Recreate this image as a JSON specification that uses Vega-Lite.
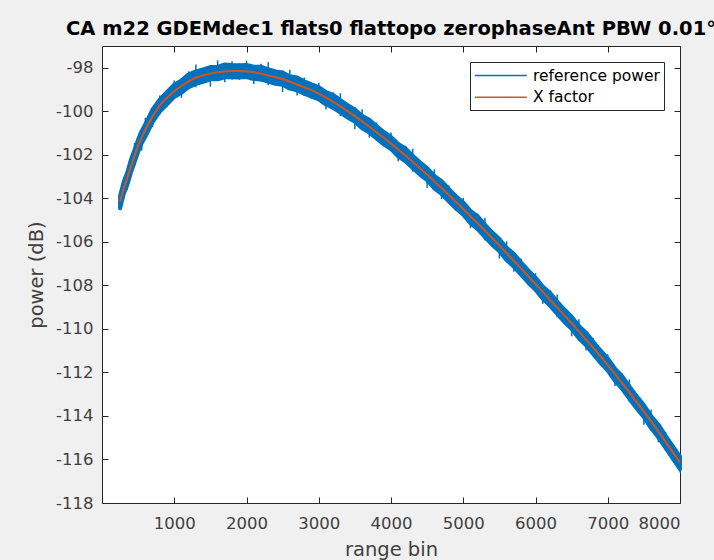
{
  "$schema": "https://vega.github.io/schema/vega-lite/v6.json",
  "autosize": "none",
  "width": 578,
  "height": 457,
  "padding": {"left": 102, "top": 46, "right": 34, "bottom": 57},
  "background": "#f0f0f0",
  "title": {"text": "CA m22 GDEMdec1 flats0 flattopo zerophaseAnt PBW 0.01°", "font": "DejaVu Sans", "fontSize": 19.5, "fontWeight": "bold", "color": "#000000", "anchor": "middle", "baseline": "alphabetic", "offset": 10, "dy": 19},
  "data": {"values": [
    {"bin": 250, "fit": -104.15, "chi": -103.88, "clo": -104.45, "shi": -103.8, "slo": -104.55},
    {"bin": 300, "fit": -103.55, "chi": -103.25, "clo": -103.81, "shi": -103.05, "slo": -103.85},
    {"bin": 350, "fit": -103.06, "chi": -102.81, "clo": -103.38, "shi": -102.76, "slo": -103.61},
    {"bin": 400, "fit": -102.55, "chi": -102.23, "clo": -102.82, "shi": -102.1, "slo": -102.9},
    {"bin": 450, "fit": -102.06, "chi": -101.78, "clo": -102.35, "shi": -101.46, "slo": -102.51},
    {"bin": 500, "fit": -101.57, "chi": -101.3, "clo": -101.87, "shi": -101.22, "slo": -101.87},
    {"bin": 550, "fit": -101.2, "chi": -100.9, "clo": -101.46, "shi": -100.8, "slo": -101.8},
    {"bin": 600, "fit": -100.85, "chi": -100.6, "clo": -101.17, "shi": -100.3, "slo": -101.2},
    {"bin": 700, "fit": -100.23, "chi": -99.91, "clo": -100.5, "shi": -99.93, "slo": -100.73},
    {"bin": 800, "fit": -99.73, "chi": -99.45, "clo": -100.02, "shi": -99.28, "slo": -100.13},
    {"bin": 900, "fit": -99.38, "chi": -99.11, "clo": -99.68, "shi": -99.03, "slo": -99.78},
    {"bin": 1000, "fit": -99.08, "chi": -98.78, "clo": -99.34, "shi": -98.58, "slo": -99.38},
    {"bin": 1100, "fit": -98.83, "chi": -98.58, "clo": -99.15, "shi": -98.53, "slo": -99.38},
    {"bin": 1200, "fit": -98.62, "chi": -98.3, "clo": -98.89, "shi": -98.17, "slo": -98.97},
    {"bin": 1300, "fit": -98.45, "chi": -98.17, "clo": -98.74, "shi": -97.85, "slo": -98.9},
    {"bin": 1400, "fit": -98.35, "chi": -98.08, "clo": -98.65, "shi": -98.0, "slo": -98.65},
    {"bin": 1500, "fit": -98.27, "chi": -97.97, "clo": -98.53, "shi": -97.87, "slo": -98.87},
    {"bin": 1600, "fit": -98.21, "chi": -97.96, "clo": -98.53, "shi": -97.66, "slo": -98.56},
    {"bin": 1700, "fit": -98.17, "chi": -97.85, "clo": -98.44, "shi": -97.87, "slo": -98.67},
    {"bin": 1800, "fit": -98.15, "chi": -97.87, "clo": -98.44, "shi": -97.7, "slo": -98.55},
    {"bin": 1900, "fit": -98.15, "chi": -97.88, "clo": -98.45, "shi": -97.8, "slo": -98.55},
    {"bin": 2000, "fit": -98.17, "chi": -97.87, "clo": -98.43, "shi": -97.67, "slo": -98.47},
    {"bin": 2100, "fit": -98.2, "chi": -97.95, "clo": -98.52, "shi": -97.9, "slo": -98.75},
    {"bin": 2200, "fit": -98.27, "chi": -97.95, "clo": -98.54, "shi": -97.82, "slo": -98.62},
    {"bin": 2300, "fit": -98.35, "chi": -98.07, "clo": -98.64, "shi": -97.75, "slo": -98.8},
    {"bin": 2400, "fit": -98.44, "chi": -98.17, "clo": -98.74, "shi": -98.09, "slo": -98.74},
    {"bin": 2500, "fit": -98.52, "chi": -98.22, "clo": -98.78, "shi": -98.12, "slo": -99.12},
    {"bin": 2600, "fit": -98.64, "chi": -98.39, "clo": -98.96, "shi": -98.09, "slo": -98.99},
    {"bin": 2700, "fit": -98.77, "chi": -98.45, "clo": -99.04, "shi": -98.47, "slo": -99.27},
    {"bin": 2800, "fit": -98.9, "chi": -98.62, "clo": -99.19, "shi": -98.45, "slo": -99.3},
    {"bin": 2900, "fit": -99.03, "chi": -98.76, "clo": -99.33, "shi": -98.68, "slo": -99.43},
    {"bin": 3000, "fit": -99.19, "chi": -98.89, "clo": -99.45, "shi": -98.69, "slo": -99.49},
    {"bin": 3100, "fit": -99.37, "chi": -99.12, "clo": -99.69, "shi": -99.07, "slo": -99.92},
    {"bin": 3200, "fit": -99.57, "chi": -99.25, "clo": -99.84, "shi": -99.12, "slo": -99.92},
    {"bin": 3300, "fit": -99.77, "chi": -99.49, "clo": -100.06, "shi": -99.17, "slo": -100.22},
    {"bin": 3400, "fit": -99.99, "chi": -99.72, "clo": -100.29, "shi": -99.64, "slo": -100.29},
    {"bin": 3500, "fit": -100.22, "chi": -99.92, "clo": -100.48, "shi": -99.82, "slo": -100.82},
    {"bin": 3600, "fit": -100.46, "chi": -100.21, "clo": -100.78, "shi": -99.91, "slo": -100.81},
    {"bin": 3700, "fit": -100.71, "chi": -100.39, "clo": -100.98, "shi": -100.41, "slo": -101.21},
    {"bin": 3800, "fit": -100.96, "chi": -100.68, "clo": -101.25, "shi": -100.51, "slo": -101.36},
    {"bin": 3900, "fit": -101.22, "chi": -100.95, "clo": -101.52, "shi": -100.87, "slo": -101.62},
    {"bin": 4000, "fit": -101.48, "chi": -101.18, "clo": -101.74, "shi": -100.98, "slo": -101.78},
    {"bin": 4100, "fit": -101.75, "chi": -101.5, "clo": -102.07, "shi": -101.45, "slo": -102.3},
    {"bin": 4200, "fit": -102.03, "chi": -101.71, "clo": -102.3, "shi": -101.58, "slo": -102.38},
    {"bin": 4300, "fit": -102.32, "chi": -102.04, "clo": -102.61, "shi": -101.72, "slo": -102.77},
    {"bin": 4400, "fit": -102.61, "chi": -102.34, "clo": -102.91, "shi": -102.26, "slo": -102.91},
    {"bin": 4500, "fit": -102.91, "chi": -102.61, "clo": -103.17, "shi": -102.51, "slo": -103.51},
    {"bin": 4600, "fit": -103.22, "chi": -102.97, "clo": -103.54, "shi": -102.67, "slo": -103.57},
    {"bin": 4700, "fit": -103.53, "chi": -103.21, "clo": -103.8, "shi": -103.23, "slo": -104.03},
    {"bin": 4800, "fit": -103.85, "chi": -103.57, "clo": -104.14, "shi": -103.4, "slo": -104.25},
    {"bin": 4900, "fit": -104.17, "chi": -103.9, "clo": -104.47, "shi": -103.82, "slo": -104.57},
    {"bin": 5000, "fit": -104.49, "chi": -104.19, "clo": -104.75, "shi": -103.99, "slo": -104.79},
    {"bin": 5100, "fit": -104.82, "chi": -104.57, "clo": -105.14, "shi": -104.52, "slo": -105.37},
    {"bin": 5200, "fit": -105.15, "chi": -104.83, "clo": -105.42, "shi": -104.7, "slo": -105.5},
    {"bin": 5300, "fit": -105.49, "chi": -105.21, "clo": -105.78, "shi": -104.89, "slo": -105.94},
    {"bin": 5400, "fit": -105.83, "chi": -105.56, "clo": -106.13, "shi": -105.48, "slo": -106.13},
    {"bin": 5500, "fit": -106.17, "chi": -105.87, "clo": -106.43, "shi": -105.77, "slo": -106.77},
    {"bin": 5600, "fit": -106.52, "chi": -106.27, "clo": -106.84, "shi": -105.97, "slo": -106.87},
    {"bin": 5700, "fit": -106.87, "chi": -106.55, "clo": -107.14, "shi": -106.57, "slo": -107.37},
    {"bin": 5800, "fit": -107.22, "chi": -106.94, "clo": -107.51, "shi": -106.77, "slo": -107.62},
    {"bin": 5900, "fit": -107.58, "chi": -107.31, "clo": -107.88, "shi": -107.23, "slo": -107.98},
    {"bin": 6000, "fit": -107.94, "chi": -107.64, "clo": -108.2, "shi": -107.44, "slo": -108.24},
    {"bin": 6100, "fit": -108.3, "chi": -108.05, "clo": -108.62, "shi": -108.0, "slo": -108.85},
    {"bin": 6200, "fit": -108.66, "chi": -108.34, "clo": -108.93, "shi": -108.21, "slo": -109.01},
    {"bin": 6300, "fit": -109.02, "chi": -108.74, "clo": -109.31, "shi": -108.42, "slo": -109.47},
    {"bin": 6400, "fit": -109.38, "chi": -109.11, "clo": -109.68, "shi": -109.03, "slo": -109.68},
    {"bin": 6500, "fit": -109.74, "chi": -109.44, "clo": -110.0, "shi": -109.34, "slo": -110.34},
    {"bin": 6600, "fit": -110.11, "chi": -109.86, "clo": -110.43, "shi": -109.56, "slo": -110.46},
    {"bin": 6700, "fit": -110.49, "chi": -110.17, "clo": -110.76, "shi": -110.19, "slo": -110.99},
    {"bin": 6800, "fit": -110.87, "chi": -110.59, "clo": -111.16, "shi": -110.42, "slo": -111.27},
    {"bin": 6900, "fit": -111.26, "chi": -110.99, "clo": -111.56, "shi": -110.91, "slo": -111.66},
    {"bin": 7000, "fit": -111.66, "chi": -111.36, "clo": -111.92, "shi": -111.16, "slo": -111.96},
    {"bin": 7100, "fit": -112.07, "chi": -111.82, "clo": -112.39, "shi": -111.77, "slo": -112.62},
    {"bin": 7200, "fit": -112.49, "chi": -112.17, "clo": -112.76, "shi": -112.04, "slo": -112.84},
    {"bin": 7300, "fit": -112.92, "chi": -112.64, "clo": -113.21, "shi": -112.32, "slo": -113.37},
    {"bin": 7400, "fit": -113.36, "chi": -113.09, "clo": -113.66, "shi": -113.01, "slo": -113.66},
    {"bin": 7500, "fit": -113.8, "chi": -113.5, "clo": -114.06, "shi": -113.4, "slo": -114.4},
    {"bin": 7600, "fit": -114.25, "chi": -114.0, "clo": -114.57, "shi": -113.7, "slo": -114.6},
    {"bin": 7700, "fit": -114.71, "chi": -114.39, "clo": -114.98, "shi": -114.41, "slo": -115.21},
    {"bin": 7800, "fit": -115.18, "chi": -114.9, "clo": -115.47, "shi": -114.73, "slo": -115.58},
    {"bin": 7900, "fit": -115.66, "chi": -115.39, "clo": -115.96, "shi": -115.31, "slo": -116.06},
    {"bin": 8000, "fit": -116.14, "chi": -115.87, "clo": -116.44, "shi": -115.8, "slo": -116.6}
  ]},
  "layer": [
    {
      "mark": {"type": "area", "color": "#0072BD", "stroke": "#0072BD", "strokeWidth": 4, "strokeJoin": "round", "opacity": 1},
      "encoding": {
        "x": {"field": "bin", "type": "quantitative", "scale": {"domain": [0, 8000], "nice": false}, "axis": {"orient": "bottom", "values": [1000, 2000, 3000, 4000, 5000, 6000, 7000, 8000], "labelExpr": "toString(datum.value)", "title": "range bin", "titleY": 52, "titleBaseline": "alphabetic", "labelPadding": 18}},
        "y": {"field": "clo", "type": "quantitative", "scale": {"domain": [-118, -97], "nice": false, "zero": false}, "axis": {"orient": "left", "values": [-118, -116, -114, -112, -110, -108, -106, -104, -102, -100, -98], "labelExpr": "toString(datum.value)", "title": "power (dB)", "titleX": -60, "titleBaseline": "alphabetic", "labelPadding": 15}},
        "y2": {"field": "chi"},
        "color": {"datum": "reference power", "scale": {"domain": ["reference power", "X factor"], "range": ["#0072BD", "#D95319"]}}
      }
    },
    {
      "mark": {"type": "rule", "color": "#0072BD", "strokeWidth": 1.5},
      "encoding": {
        "x": {"field": "bin", "type": "quantitative", "scale": {"domain": [0, 8000], "nice": false}, "axis": null},
        "y": {"field": "slo", "type": "quantitative", "scale": {"domain": [-118, -97], "nice": false, "zero": false}, "axis": null},
        "y2": {"field": "shi"}
      }
    },
    {
      "mark": {"type": "line", "strokeWidth": 2},
      "encoding": {
        "x": {"field": "bin", "type": "quantitative", "scale": {"domain": [0, 8000], "nice": false}, "axis": null},
        "y": {"field": "fit", "type": "quantitative", "scale": {"domain": [-118, -97], "nice": false, "zero": false}, "axis": null},
        "color": {"datum": "X factor", "scale": {"domain": ["reference power", "X factor"], "range": ["#0072BD", "#D95319"]}, "legend": {"title": null, "orient": "top-right", "offset": 16, "symbolType": "M-1,0L5,0", "symbolSize": 300, "symbolStrokeWidth": 1.5, "labelFontSize": 15.5, "labelFont": "DejaVu Sans", "labelColor": "#000000", "labelOffset": 40, "labelLimit": 0, "fillColor": "#ffffff", "strokeColor": "#262626", "padding": 4, "rowPadding": 3.7}}
      }
    },
    {
      "mark": {"type": "line", "opacity": 0},
      "encoding": {
        "x": {"field": "bin", "type": "quantitative", "scale": {"domain": [0, 8000], "nice": false}, "axis": {"orient": "top", "values": [1000, 2000, 3000, 4000, 5000, 6000, 7000, 8000], "labels": false, "title": null}},
        "y": {"field": "fit", "type": "quantitative", "scale": {"domain": [-118, -97], "nice": false, "zero": false}, "axis": {"orient": "right", "values": [-118, -116, -114, -112, -110, -108, -106, -104, -102, -100, -98], "labels": false, "title": null}}
      }
    }
  ],
  "resolve": {"axis": {"x": "independent", "y": "independent"}},
  "config": {
    "view": {"fill": "#ffffff", "stroke": null},
    "axis": {"grid": false, "domainColor": "#262626", "domainWidth": 1, "tickColor": "#262626", "tickSize": -6, "tickWidth": 1, "labelFont": "DejaVu Sans", "labelFontSize": 16.5, "labelColor": "#404040", "titleFont": "DejaVu Sans", "titleFontSize": 19.5, "titleFontWeight": "normal", "titleColor": "#404040"}
  }
}
